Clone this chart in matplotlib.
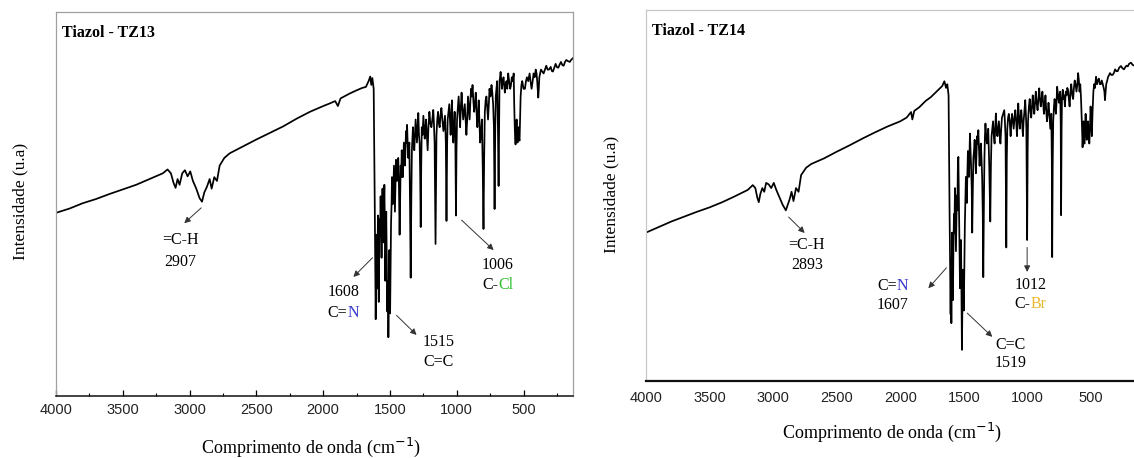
import matplotlib
matplotlib.use("Agg")
import matplotlib.pyplot as plt
import matplotlib.ticker as ticker
from matplotlib.offsetbox import TextArea, HPacker, AnnotationBbox

# ---- spectrum TZ13 (wavenumber cm-1, intensity a.u. 0-100) ----
tz13_wn = [4000, 3900, 3800, 3700, 3600, 3500, 3400, 3300, 3200, 3165, 3140, 3120, 3105, 3090, 3075,
           3055, 3035, 3015, 2995, 2975, 2950, 2925, 2907, 2890, 2870, 2850, 2835, 2815, 2795, 2775,
           2740, 2700, 2600, 2500, 2400, 2300, 2200, 2100, 2000, 1950, 1910, 1890, 1870, 1800, 1750,
           1710, 1680, 1660, 1648, 1640, 1632, 1622,
           1614, 1607, 1603, 1600, 1596, 1593, 1590, 1587, 1584, 1580, 1577, 1573, 1570, 1566, 1563,
           1559, 1556, 1552, 1549, 1545, 1542, 1538, 1535, 1531, 1528, 1524, 1520, 1516, 1512, 1508,
           1505, 1502, 1499, 1495, 1492, 1488, 1485, 1481, 1478, 1474, 1470, 1466, 1463, 1459, 1455,
           1451, 1447, 1443, 1438, 1433, 1428, 1424, 1420, 1416, 1412, 1408, 1404, 1400, 1396, 1392,
           1388, 1384, 1380, 1376, 1372, 1367, 1363, 1359, 1355, 1350, 1345, 1340, 1336, 1332, 1328,
           1323, 1318, 1313, 1308, 1303, 1298, 1293, 1288, 1283, 1278, 1274, 1270, 1266, 1262, 1256,
           1250, 1245, 1240, 1235, 1230, 1224, 1218, 1212, 1205, 1198, 1190, 1183, 1176, 1171, 1166,
           1159, 1152, 1146, 1140, 1134, 1128, 1122, 1115, 1108, 1100, 1094, 1088, 1082, 1077, 1072,
           1068, 1062, 1056, 1051, 1046, 1041, 1036, 1031, 1026, 1021, 1016, 1011, 1006, 1002, 998,
           992, 986, 980, 975, 970, 964, 958, 952, 946, 940, 934, 928, 922, 916, 910,
           904, 898, 893, 888, 882, 876, 870, 864, 858, 852, 846, 841, 836, 830, 825,
           818, 812, 806, 800, 795, 790, 784, 778, 772, 766, 760, 755, 748, 740, 734,
           728, 722, 717, 712, 708, 703, 698, 692, 687, 683, 680, 676, 672, 667, 662,
           656, 650, 645, 640, 634, 628, 622, 615, 608, 600, 594, 588, 581, 574, 570,
           566, 563, 560, 556, 552, 549, 545, 541, 538, 534, 530, 526, 522, 516, 510,
           500, 490, 482, 475, 465, 455, 448, 440, 432, 425, 417, 409, 403, 398, 394,
           390, 386, 382, 376, 370, 360, 350, 340, 330, 320, 310, 297, 288, 280, 270,
           260, 250, 240, 230, 220, 210, 200, 190, 180, 167, 154, 142, 130]
tz13_int = [47.7, 48.8, 50.2, 51.3, 52.6, 53.8, 55.0, 56.5, 58.0, 59.0, 58.0, 55.5, 54.2, 56.5, 55.0,
            58.0, 58.8, 57.2, 58.5, 56.0, 54.0, 51.5, 50.6, 53.0, 54.5, 56.5, 54.0, 57.0, 56.0, 60.0,
            62.0, 63.2, 65.0, 66.8, 68.5, 70.2, 72.2, 74.0, 75.5, 76.2, 76.8, 75.5, 77.5, 78.8, 79.6,
            80.2, 80.5, 82.0, 83.2, 81.0, 82.8, 80.0,
            50, 20.0, 35, 42, 28, 38, 47, 33, 24.5, 40, 46, 44, 52, 42, 36,
            48, 54, 45, 40, 50, 55, 43, 30, 41, 48, 35, 22, 30, 15.3, 26,
            38, 30, 21.5, 36, 45, 50, 57, 52, 50, 55, 60, 53, 48, 55, 61.5,
            58, 56, 60, 62, 55, 42, 52, 60, 57, 64, 60, 57, 62, 66, 63,
            60, 64, 69, 66, 70.6, 65, 62, 64, 66, 50, 30.8, 52, 64, 67, 70,
            66, 64, 68, 72, 69, 66, 70, 73.7, 68, 66, 58, 44, 60, 70, 68,
            73, 70, 67, 69, 72, 68, 64, 70, 74, 71, 70, 72, 74.5, 71, 66,
            39.6, 68, 72, 74, 71, 70, 73, 75, 72, 69, 71, 73, 66, 45.6, 66,
            72, 74, 76, 72, 68, 73, 77, 70, 66, 70, 74, 68, 47, 64, 72,
            75, 78, 74, 70, 75, 79, 75, 72, 74, 76, 72, 68, 72, 78, 75,
            72, 77, 80, 78, 81, 77, 74, 76, 79, 74, 70, 73, 77, 71, 66,
            69, 72, 60, 43.5, 62, 74, 77, 78, 75, 72, 76, 80, 78, 81, 79,
            76, 70, 48.7, 70, 78, 80, 82, 70, 54.7, 72, 82, 83, 84.4, 82, 80,
            82, 83, 81, 79, 81, 82, 80, 84, 82, 80, 81, 83, 82, 84, 76,
            70, 67, 65.5, 69, 72, 68, 66, 69, 70, 67, 66.5, 72, 78, 81, 82,
            80, 80, 82, 83, 82, 84, 82, 80, 82, 84, 83, 85, 84, 82, 80,
            77.7, 80, 83, 84, 85, 84.5, 84, 85, 86, 85, 85, 85.7, 84.6, 84.5, 85.5,
            86.5, 85.6, 85.5, 86.3, 87, 86.2, 86, 87, 87.5, 87.2, 87, 87.6, 88]

# ---- spectrum TZ14 ----
tz14_wn = [4000, 3900, 3800, 3700, 3600, 3500, 3400, 3300, 3200, 3160, 3140, 3125, 3113, 3100, 3085,
           3070, 3055, 3035, 3015, 2995, 2975, 2950, 2925, 2900, 2885, 2870, 2855, 2840, 2820, 2800,
           2780, 2740, 2700, 2600, 2500, 2400, 2300, 2200, 2100, 2000, 1950, 1915, 1905, 1890, 1850,
           1800, 1760, 1730, 1700, 1670, 1653, 1640, 1630, 1620,
           1612, 1604, 1601, 1598, 1595, 1592, 1589, 1586, 1582, 1578, 1574, 1570, 1566, 1562, 1558,
           1555, 1551, 1547, 1543, 1540, 1537, 1533, 1530, 1526, 1522, 1518, 1515, 1511, 1508, 1504,
           1500, 1496, 1492, 1488, 1484, 1480, 1476, 1472, 1468, 1464, 1460, 1456, 1452, 1447, 1443,
           1438, 1434, 1430, 1425, 1420, 1415, 1410, 1405, 1400, 1396, 1391, 1386, 1381, 1376, 1371,
           1366, 1361, 1356, 1351, 1347, 1342, 1338, 1334, 1330, 1324, 1318, 1313, 1308, 1300, 1292,
           1287, 1282, 1276, 1270, 1264, 1258, 1253, 1248, 1242, 1236, 1230, 1224, 1218, 1212, 1206,
           1200, 1191, 1182, 1177, 1172, 1166, 1162, 1158, 1152, 1146, 1139, 1132, 1126, 1120, 1114,
           1108, 1101, 1095, 1088, 1082, 1077, 1072, 1066, 1060, 1054, 1048, 1041, 1035, 1030, 1025,
           1021, 1017, 1012, 1008, 1002, 998, 995, 988, 982, 976, 970, 964, 958, 952, 946,
           940, 934, 927, 920, 913, 907, 901, 895, 888, 882, 876, 870, 864, 858, 852,
           846, 840, 834, 827, 820, 816, 812, 808, 805, 801, 797, 791, 786, 781, 776,
           771, 766, 759, 752, 747, 742, 738, 735, 731, 728, 722, 716, 710, 705, 698,
           692, 686, 680, 674, 668, 661, 655, 647, 640, 634, 628, 621, 614, 607, 601,
           595, 590, 584, 578, 574, 570, 566, 562, 558, 554, 550, 546, 542, 538, 533,
           528, 523, 518, 513, 508, 503, 498, 493, 488, 481, 475, 468, 460, 452, 445,
           437, 430, 422, 415, 407, 400, 394, 390, 385, 380, 372, 365, 357, 350, 340,
           330, 320, 310, 300, 290, 277, 264, 252, 240, 230, 220, 210, 200, 185, 172,
           160, 145, 130]
tz14_int = [40.0, 41.5, 43.0, 44.3, 45.6, 46.8, 48.2, 49.8, 51.5, 52.8, 52.0, 49.5, 48.2, 50.5, 52.0,
            51.0, 53.4, 53.0, 52.0, 53.4, 51.5, 49.5, 47.5, 46.0, 47.5, 49.0, 51.0, 48.5, 52.0, 51.0,
            55.5, 57.5, 58.5, 60.0, 61.8, 63.5, 65.3, 67.0, 68.6, 70.0, 71.0, 72.5, 70.5, 72.8, 73.8,
            75.5, 76.5, 77.5, 78.5, 79.5, 80.8, 79.0, 80.0, 77.0,
            45, 18, 30, 15.6, 32, 40, 30, 21.8, 35, 45, 40, 52, 44, 35, 43,
            50, 46, 58, 60.4, 52, 45, 34, 25, 32, 38, 22, 8.4, 20, 30, 24,
            19, 30, 42, 48, 55, 50, 48, 56, 62, 58, 55, 60, 66.7, 62, 58,
            52, 40, 50, 60, 62, 65, 60, 56, 62, 66, 64, 67.6, 63, 58, 62,
            64, 60, 55, 45, 28, 48, 60, 66, 69.4, 66, 64, 66, 68, 58, 43,
            58, 66, 68, 70, 66, 64, 68, 72.1, 68, 66, 68, 70, 66, 64, 68,
            71, 72, 73, 70, 66, 36, 60, 68, 71, 72, 70, 66, 70, 72, 70,
            68, 71, 73, 70, 66, 70, 74.8, 71, 68, 71, 73, 69, 66, 70, 72,
            74, 75.7, 72, 68, 38, 62, 70, 74, 76, 73, 71, 74, 77, 74, 72,
            75, 78, 75, 73, 76, 78.9, 76, 74, 76, 78, 75, 72, 74, 77, 73,
            70, 72, 75, 72, 68, 70, 72, 60, 33.4, 58, 70, 74, 76, 74, 72,
            75, 79.3, 77, 75, 77, 78, 70, 44.7, 68, 76, 78.5, 76, 77, 74, 78,
            77, 79, 78.4, 76, 74, 78, 80, 77, 76, 79, 81, 80, 78, 80, 83,
            81, 78, 80, 76, 72, 68, 63, 66, 70, 67, 64, 68, 72, 68, 65,
            67, 70, 67, 64, 68, 74, 70, 66, 72, 78, 80, 79, 82, 80, 81,
            81.5, 80, 80, 81, 80, 79, 78, 75.7, 78, 80, 81, 82, 82.5, 83, 82.5,
            82.5, 83, 84, 83.5, 83.5, 84.5, 84.9, 84.3, 84, 84.6, 85, 84.8, 85.5, 85.8, 85.2,
            85, 85.6, 86]

# ---- band labels: (text parts, text position, arrow tail, arrow head) ----
tz13_labels = [
    ([[("=C-H", "k")], [("2907", "k")]], (3070, 40.6, 34.9), (2913, 49), (3040, 45)),
    ([[("1608", "k")], [("C=", "k"), ("N", "#3a3ad0")]], (1849, 27.0, 21.6), (1631, 36), (1774, 31)),
    ([[("1515", "k")], [("C=C", "k")]], (1136, 14.0, 8.9), (1451, 21), (1301, 15.9)),
    ([[("1006", "k")], [("C-", "k"), ("Cl", "#2fc02f")]], (694, 34.0, 28.9), (964, 45.8), (724, 38)),
]
tz14_labels = [
    ([[("=C-H", "k")], [("2893", "k")]], (2736, 36.7, 31.3), (2878, 44.2), (2752, 39.9)),
    ([[("C=", "k"), ("N", "#3a3ad0")], [("1607", "k")]], (2061, 25.6, 20.5), (1637, 30.5), (1779, 25)),
    ([[("C=C", "k")], [("1519", "k")]], (1135, 9.7, 4.9), (1473, 18.3), (1276, 11.9)),
    ([[("1012", "k")], [("C-", "k"), ("Br", "#e8b830")]], (978, 25.9, 20.8), (1002, 36), (1002, 29.4)),
]

serif = "Liberation Serif"
sans = "Liberation Sans"

fig = plt.figure(figsize=(11.34, 4.58), dpi=100)
W, H = 1134, 458
ax1 = fig.add_axes([56 / W, (H - 396) / H, (573 - 56) / W, (396 - 12) / H])
ax2 = fig.add_axes([646 / W, (H - 381) / H, (1138 - 646) / W, (381 - 10) / H])


def put_line(ax, parts, x, y):
    kids = [TextArea(t, textprops=dict(color=c, family=serif, fontsize=11.5)) for t, c in parts]
    box = HPacker(children=kids, pad=0, sep=0, align="baseline")
    ab = AnnotationBbox(box, (x, y), xycoords="data", frameon=False,
                        box_alignment=(0.5, 0.5), pad=0, annotation_clip=False)
    ax.add_artist(ab)


def setup(ax, wn, inten, title, labels, ticks_on, edge):
    ax.plot(wn, inten, color="black", lw=1.25)
    ax.set_xlim(4000, 130)
    ax.set_ylim(0, 100)
    ax.set_yticks([])
    ax.xaxis.set_major_locator(ticker.MultipleLocator(500))
    ax.xaxis.set_minor_locator(ticker.MultipleLocator(250))
    ax.xaxis.set_major_formatter(ticker.FuncFormatter(
        lambda v, p: "%d" % v if 500 <= v <= 4000 else ""))
    if ticks_on:
        ax.tick_params(axis="x", which="major", direction="in", length=4, width=0.9, pad=5)
        ax.tick_params(axis="x", which="minor", direction="in", length=2.5, width=0.8)
    else:
        ax.tick_params(axis="x", which="both", length=0, pad=7)
    for lab in ax.get_xticklabels():
        lab.set_fontfamily(sans)
        lab.set_fontsize(10.5)
        lab.set_color("#222222")
    for s in ("top", "left", "right"):
        ax.spines[s].set_color(edge)
        ax.spines[s].set_linewidth(0.9)
    ax.spines["bottom"].set_color("#111111")
    ax.spines["bottom"].set_linewidth(1.1 if ticks_on else 1.6)
    ax.text(0.012, 0.965, title, transform=ax.transAxes, family=serif,
            fontweight="bold", fontsize=11.5, va="top", ha="left")
    for lines, (tx, y1, y2), tail, head in labels:
        put_line(ax, lines[0], tx, y1)
        put_line(ax, lines[1], tx, y2)
        ax.annotate("", xy=head, xytext=tail,
                    arrowprops=dict(arrowstyle="-|>", color="#333333", lw=0.7,
                                    mutation_scale=9, shrinkA=0, shrinkB=0))


setup(ax1, tz13_wn, tz13_int, "Tiazol - TZ13", tz13_labels, True, "#a0a0a0")
setup(ax2, tz14_wn, tz14_int, "Tiazol - TZ14", tz14_labels, False, "#c8c8c8")

fig.text(20 / W, 1 - 201 / H, "Intensidade (u.a)", rotation=90, family=serif,
         fontsize=12.5, ha="center", va="center")
fig.text(611 / W, 1 - 194 / H, "Intensidade (u.a)", rotation=90, family=serif,
         fontsize=12.5, ha="center", va="center")
fig.text(311 / W, 1 - 447 / H, "Comprimento de onda (cm$^{-1}$)", family=serif,
         fontsize=13, ha="center", va="center")
fig.text(892 / W, 1 - 432 / H, "Comprimento de onda (cm$^{-1}$)", family=serif,
         fontsize=13, ha="center", va="center")

fig.savefig("out.png", dpi=100)
